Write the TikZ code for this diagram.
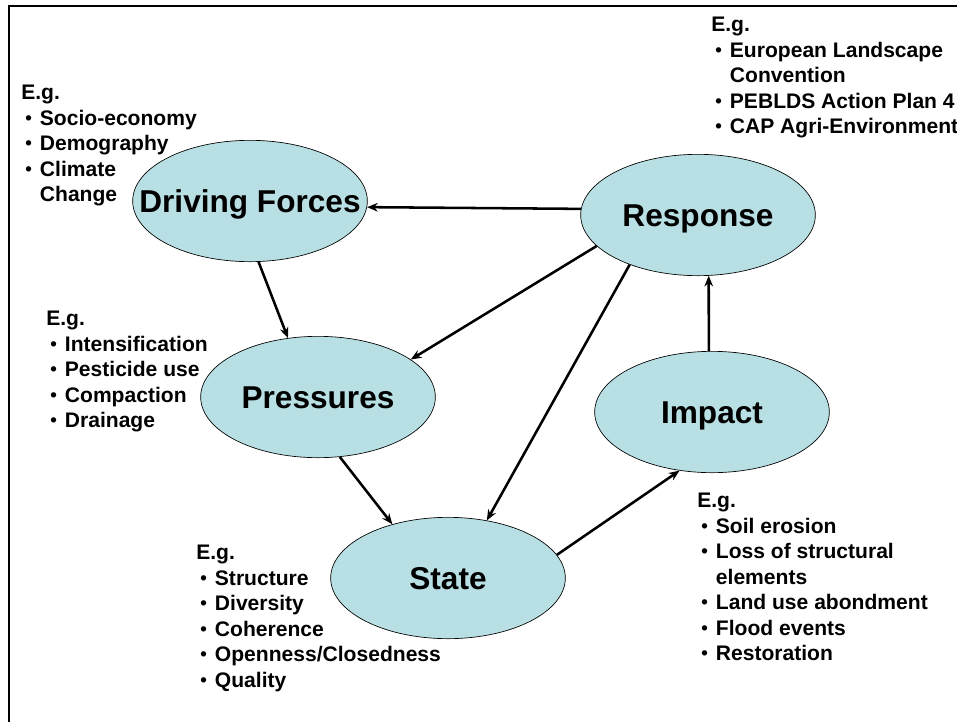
\documentclass[tikz,border=0pt]{standalone}
\usepackage{fontspec}
\setmainfont{Liberation Sans}
\usetikzlibrary{shapes.geometric}
\usetikzlibrary{arrows.meta}

\definecolor{dpsirfill}{RGB}{184,223,227}
\newcommand{\bul}[1]{\hspace*{3pt}\makebox[11pt][l]{\raisebox{0.6pt}{\fontsize{14}{14}\selectfont•}}#1}
\newcommand{\cont}[1]{\hspace*{14pt}#1}

\begin{document}
\begin{tikzpicture}[x=0.75pt, y=-0.75pt,
  dpsir/.style={ellipse, draw=black, line width=0.5pt, fill=dpsirfill, minimum width=176pt, minimum height=91pt, inner sep=0pt, text height=17pt, text depth=0pt, font=\fontsize{23.7}{28}\selectfont\bfseries},
  eglist/.style={anchor=north west, align=left, inner sep=0pt, font=\fontsize{15.8}{19.1}\selectfont\bfseries},
  link/.style={line width=1.9pt, -{Stealth[length=8pt, width=6.5pt]}}]
\clip (0,0) rectangle (957,722);
\draw[line width=1.5pt] (957,6) -- (9,6) -- (9,722);

\node[dpsir] (drive) at (250,201) {\makebox[0pt]{Driving Forces}};
\node[dpsir] (resp) at (698,215) {\makebox[0pt]{Response}};
\node[dpsir] (press) at (318,397) {\makebox[0pt]{Pressures}};
\node[dpsir] (imp) at (712,412) {\makebox[0pt]{Impact}};
\node[dpsir] (state) at (448,578) {\makebox[0pt]{State}};

\draw[link] (resp.177) -- (drive.357);
\draw[link] (drive.278) -- (press.117);
\draw[link] (resp.197) -- (press.22);
\draw[link] (resp.216) -- (state.56);
\draw[link] (press.290) -- (state.136);
\draw[link] (state.12) -- (imp.241);
\draw[link] (imp.93) -- (resp.280);

\node[eglist] (egdrive) at (21,85) {E.g.\\ \bul{Socio-economy}\\ \bul{Demography}\\ \bul{Climate}\\ \cont{Change}};
\node[eglist] (egresp) at (711,17) {E.g.\\ \bul{European Landscape}\\ \cont{Convention}\\ \bul{PEBLDS Action Plan 4}\\ \bul{CAP Agri-Environment}};
\node[eglist] (egpress) at (46,311) {E.g.\\ \bul{Intensification}\\ \bul{Pesticide use}\\ \bul{Compaction}\\ \bul{Drainage}};
\node[eglist] (egstate) at (196,545) {E.g.\\ \bul{Structure}\\ \bul{Diversity}\\ \bul{Coherence}\\ \bul{Openness/Closedness}\\ \bul{Quality}};
\node[eglist] (egimp) at (697,493) {E.g.\\ \bul{Soil erosion}\\ \bul{Loss of structural}\\ \cont{elements}\\ \bul{Land use abondment}\\ \bul{Flood events}\\ \bul{Restoration}};
\end{tikzpicture}
\end{document}
